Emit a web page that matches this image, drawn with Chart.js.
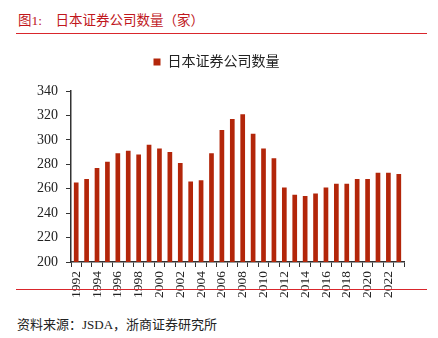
<!DOCTYPE html>
<html>
<head>
<meta charset="utf-8">
<script src="https://cdn.jsdelivr.net/npm/chart.js@4.4.0/dist/chart.umd.min.js"></script>
<style>
    html, body { margin: 0; padding: 0; background: #fff; }
    #wrap { position: relative; width: 438px; height: 338px; overflow: hidden; }
    #title { position: absolute; left: 18px; top: 9px; font: 13.5px "Liberation Serif", "Noto Sans CJK SC", serif; color: #c0161c; white-space: pre; }
    .rule { position: absolute; left: 16px; width: 411px; height: 1px; background: #d9262c; }
    #source { position: absolute; left: 17px; top: 314px; font: 13px "Liberation Serif", "Noto Sans CJK SC", serif; color: #222; }
    #chartBox { position: absolute; left: 0; top: 23px; width: 438px; height: 279px; }
</style>
</head>
<body>
<div id="wrap">
    <div id="title">图1:    日本证券公司数量（家）</div>
    <div class="rule" style="top:33px"></div>
    <div id="chartBox"><canvas id="brokerChart"></canvas></div>
    <div class="rule" style="top:289px"></div>
    <div id="source">资料来源：JSDA，浙商证券研究所</div>
</div>
<script>
// 日本证券公司数量（家）, JSDA
const years = ['1992', '1993', '1994', '1995', '1996', '1997', '1998', '1999', '2000', '2001',
    '2002', '2003', '2004', '2005', '2006', '2007', '2008', '2009', '2010', '2011',
    '2012', '2013', '2014', '2015', '2016', '2017', '2018', '2019', '2020', '2021',
    '2022', '2023'];
const brokerCounts = [265, 268, 277, 282, 289, 291, 288, 296, 293, 290,
    281, 266, 267, 289, 308, 317, 321, 305, 293, 285,
    261, 255, 254, 256, 261, 264, 264, 268, 268, 273,
    273, 272];
const yTicks = [200, 220, 240, 260, 280, 300, 320, 340];

const serif = '"Liberation Serif", "Noto Sans CJK SC", serif';
const axisColor = '#333';

// extra gap under the legend
const legendGap = {
    id: 'legendGap',
    beforeInit: function (chart) {
        const fit = chart.legend.fit;
        chart.legend.fit = function () {
            fit.call(this);
            this.height += 12;
        };
    }
};

new Chart(document.getElementById('brokerChart').getContext('2d'), {
    type: 'bar',
    data: {
        labels: years,
        datasets: [{
            label: '日本证券公司数量',
            data: brokerCounts,
            backgroundColor: '#b3260a',
            borderWidth: 0,
            barPercentage: 0.45,
            categoryPercentage: 1
        }]
    },
    options: {
        responsive: true,
        maintainAspectRatio: false,
        animation: false,
        layout: { padding: { left: 29, right: 34, top: 0, bottom: 0 } },
        plugins: {
            legend: {
                position: 'top',
                labels: {
                    color: '#222',
                    font: { family: serif, size: 14 },
                    boxWidth: 7,
                    boxHeight: 7,
                    padding: 32
                }
            },
            tooltip: { enabled: false }
        },
        scales: {
            x: {
                offset: true,
                grid: {
                    offset: true,
                    drawOnChartArea: false,
                    drawTicks: true,
                    tickLength: 5,
                    color: axisColor
                },
                border: { color: axisColor, width: 1.5 },
                ticks: {
                    autoSkip: false,
                    maxRotation: 90,
                    minRotation: 90,
                    padding: 4,
                    color: '#222',
                    font: { family: serif, size: 13.5 },
                    callback: function (value, index) {
                        return index % 2 === 0 ? years[index] : '';
                    }
                }
            },
            y: {
                min: 200,
                max: 340,
                afterBuildTicks: function (axis) {
                    axis.ticks = yTicks.map(v => ({ value: v }));
                },
                grid: {
                    drawOnChartArea: false,
                    drawTicks: true,
                    tickLength: 5,
                    color: axisColor
                },
                border: { color: axisColor, width: 1.5 },
                ticks: {
                    padding: 8,
                    color: '#222',
                    font: { family: serif, size: 14 }
                }
            }
        }
    },
    plugins: [legendGap]
});
</script>
</body>
</html>
